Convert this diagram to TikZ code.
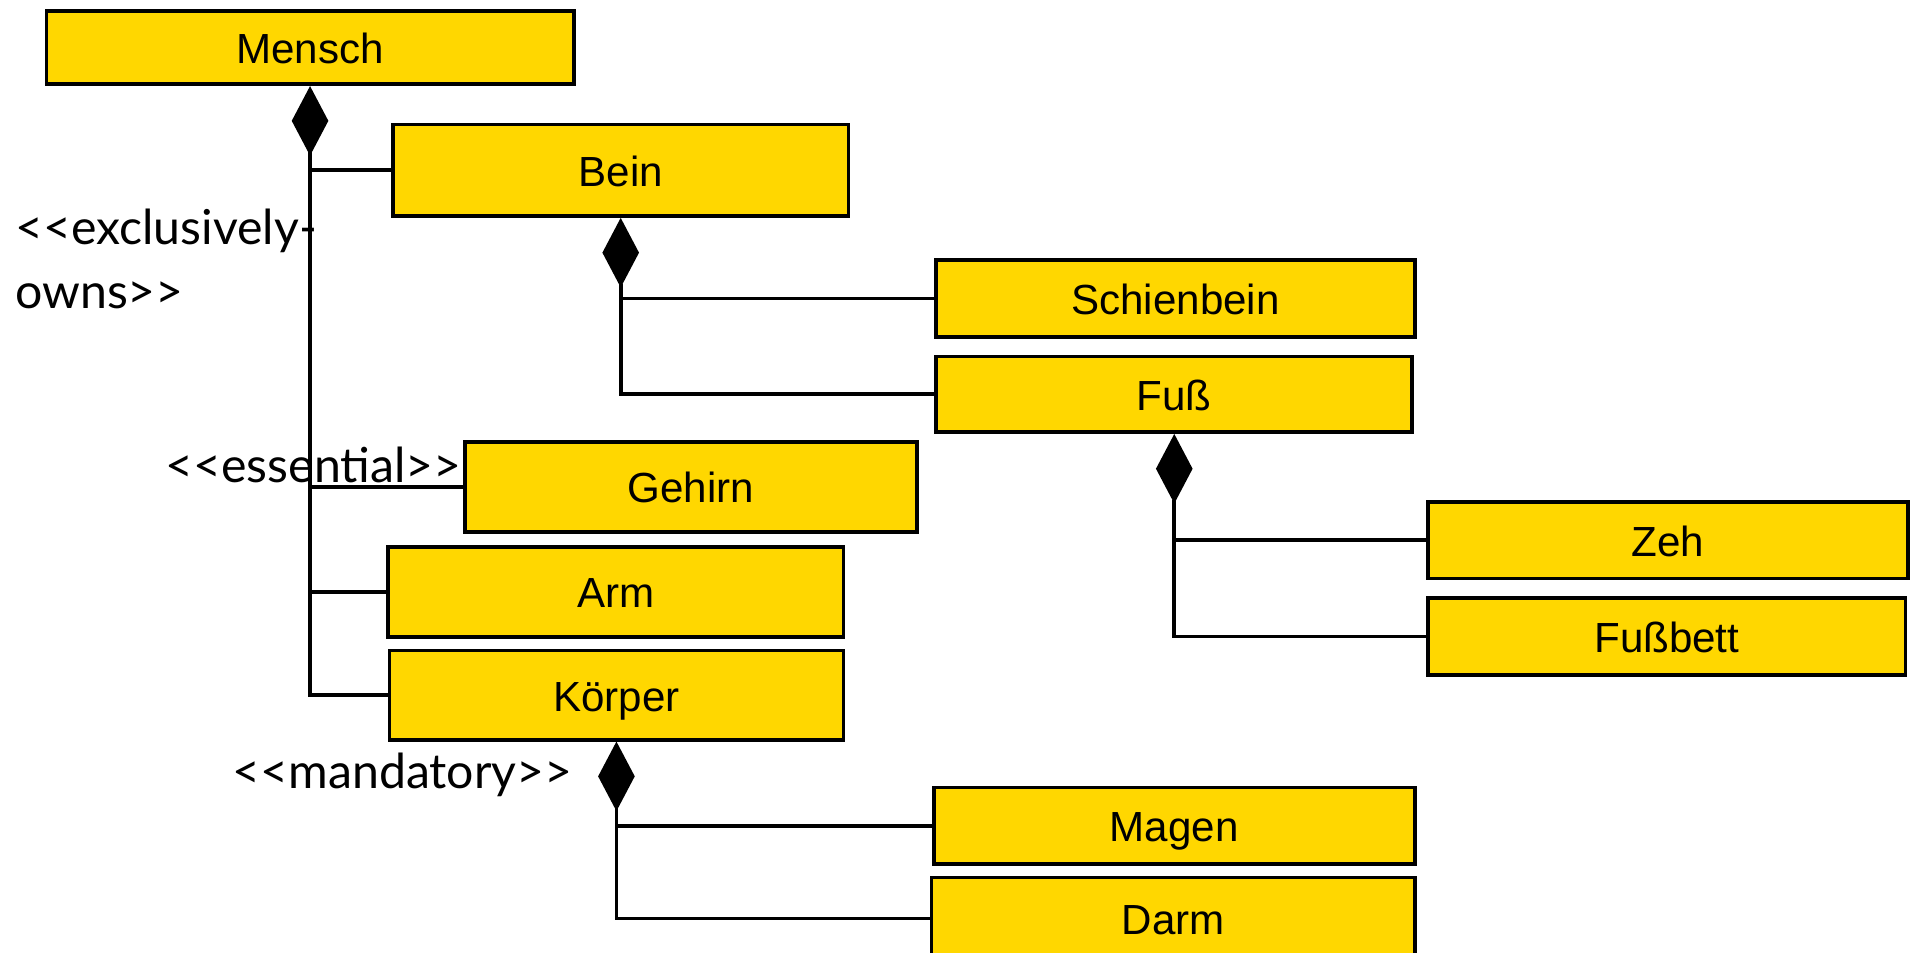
\documentclass[tikz,border=0pt]{standalone}
\usepackage{fontspec}
\setmainfont{Liberation Sans}
\newfontfamily\stereofont{Lato}
\usetikzlibrary{arrows.meta}

\definecolor{partyellow}{HTML}{FFD700}

\tikzset{
  part/.style={draw,line width=1.2pt,fill=partyellow,inner sep=0pt,
    text height=10.4pt,text depth=0pt,font=\fontsize{13.8}{16}\selectfont},
  lbl/.style={inner sep=0pt,font=\stereofont\fontsize{15.8}{20.8}\selectfont},
  whole/.style={line width=1.2pt,{Diamond[length=22.8pt,width=12pt]}-},
  link/.style={line width=1.2pt}
}

\begin{document}
\begin{tikzpicture}[x=0.4pt,y=-0.4pt]
  \useasboundingbox (0,0) rectangle (1568,780);

  % classes
  \node[part,minimum width=172.8pt,minimum height=24pt] (mensch) at (254,39) {Mensch};
  \node[part,minimum width=149.2pt,minimum height=30pt] (bein) at (508.5,139.5) {Bein};
  \node[part,minimum width=156.8pt,minimum height=25.2pt] (schienbein) at (963,244.5) {Schienbein};
  \node[part,minimum width=156pt,minimum height=24.8pt] (fuss) at (962,323) {Fuß};
  \node[part,minimum width=148pt,minimum height=29.6pt] (gehirn) at (566,399) {Gehirn};
  \node[part,minimum width=149.2pt,minimum height=29.6pt] (arm) at (504.5,485) {Arm};
  \node[part,minimum width=148.8pt,minimum height=29.2pt] (koerper) at (505,569.5) {Körper};
  \node[part,minimum width=157.2pt,minimum height=25.2pt] (zeh) at (1366.5,442.5) {Zeh};
  \node[part,minimum width=156.4pt,minimum height=25.2pt] (fussbett) at (1365.5,521.5) {Fußbett};
  \node[part,minimum width=157.6pt,minimum height=25.2pt] (magen) at (962,676.5) {Magen};
  \node[part,minimum width=158.4pt,minimum height=26.8pt] (darm) at (961,752.5) {Darm};

  % Mensch
  \draw[whole] (mensch.south) -- (mensch.south |- koerper.west) -- (koerper.west);
  \draw[link] (mensch.south |- bein.west) -- (bein.west);
  \draw[link] (mensch.south |- gehirn.west) -- (gehirn.west);
  \draw[link] (mensch.south |- arm.west) -- (arm.west);

  % Bein
  \draw[whole] (bein.south) -- (bein.south |- fuss.west) -- (fuss.west);
  \draw[link] (bein.south |- schienbein.west) -- (schienbein.west);

  % Fuss
  \draw[whole] (fuss.south) -- (fuss.south |- fussbett.west) -- (fussbett.west);
  \draw[link] (fuss.south |- zeh.west) -- (zeh.west);

  % Koerper
  \draw[whole] (koerper.south) -- (koerper.south |- darm.west) -- (darm.west);
  \draw[link] (koerper.south |- magen.west) -- (magen.west);

  % stereotypes
  \node[lbl,anchor=west,align=left] (excl) at (12,212) {<<exclusively-\\owns>>};
  \node[lbl,anchor=base west] (essential) at (135,395) {<<essential>>};
  \node[lbl,anchor=base west] (mandatory) at (190,646) {<<mandatory>>};
\end{tikzpicture}
\end{document}
